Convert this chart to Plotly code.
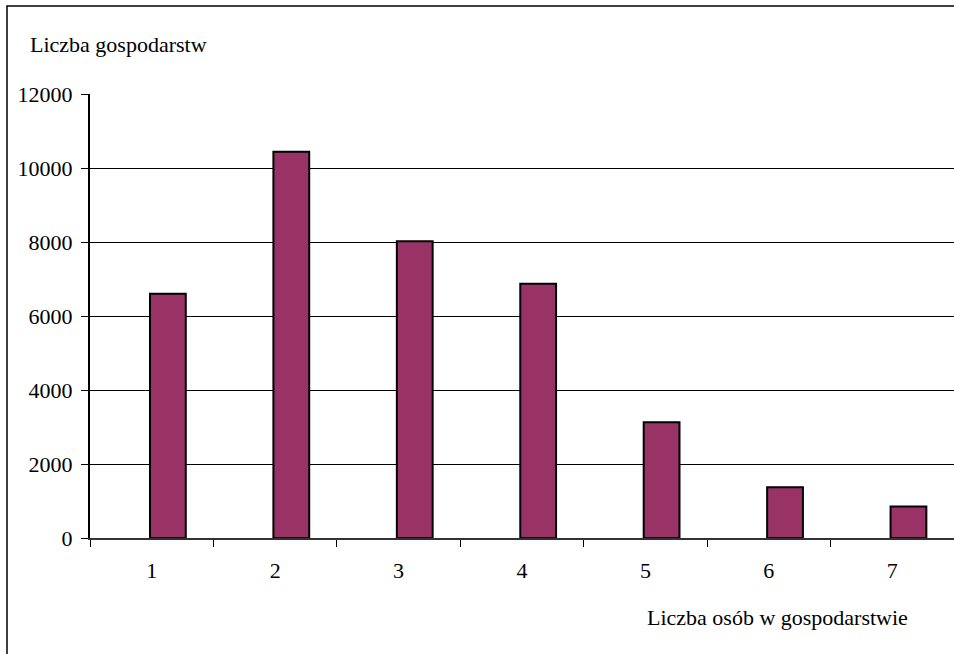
import plotly.graph_objects as go

categories = ["1", "2", "3", "4", "5", "6", "7"]
households = [6600, 10440, 8020, 6870, 3130, 1370, 850]
y_ticks = [0, 2000, 4000, 6000, 8000, 10000, 12000]

W, H = 954, 654
L, R, T, B = 90, 0, 94, 116
pw, ph = W - L - R, H - T - B

fig = go.Figure(go.Bar(
    x=categories, y=households,
    marker=dict(color="#993366", line=dict(color="black", width=2)),
    width=0.29, offset=-0.014,
))

font = dict(family="Liberation Serif, Times New Roman, serif", size=22, color="black")

fig.update_layout(
    width=W, height=H,
    margin=dict(l=L, r=R, t=T, b=B),
    paper_bgcolor="white", plot_bgcolor="white",
    font=font,
    showlegend=False,
    xaxis=dict(
        type="category", tickson="boundaries", ticks="outside", ticklen=7,
        tickcolor="black", showline=True, linecolor="#333333", linewidth=2,
        showgrid=False, range=[-0.5, 6.5], ticklabelstandoff=12,
    ),
    yaxis=dict(
        range=[0, 12000], tickvals=y_ticks, tickformat="d", ticks="outside", ticklen=7,
        tickcolor="black", showline=True, linecolor="black", linewidth=2,
        showgrid=True, gridcolor="black", gridwidth=1, zeroline=False,
        ticklabelstandoff=4,
    ),
    annotations=[
        dict(text="Liczba gospodarstw", xref="paper", yref="paper",
             x=(28 - L) / pw, y=(H - B - 45) / ph, xanchor="left", yanchor="middle",
             showarrow=False, font=font),
        dict(text="Liczba osób w gospodarstwie", xref="paper", yref="paper",
             x=(910 - L) / pw, y=(H - B - 617) / ph, xanchor="right", yanchor="middle",
             showarrow=False, font=font),
    ],
    shapes=[
        dict(type="rect", xref="paper", yref="paper",
             x0=(7 - L) / pw, x1=(W + 20 - L) / pw,
             y0=(H - B - (H + 20)) / ph, y1=(H - B - 6) / ph,
             line=dict(color="black", width=1.5), fillcolor="rgba(0,0,0,0)", layer="above"),
    ],
)

fig.write_html("out.html")
